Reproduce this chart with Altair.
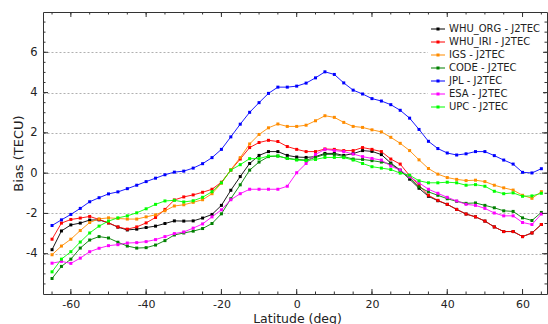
import altair as alt
import pandas as pd

# ---------------- data ----------------
lat = [-65, -62.5, -60, -57.5, -55, -52.5, -50, -47.5, -45, -42.5,
       -40, -37.5, -35, -32.5, -30, -27.5, -25, -22.5, -20, -17.5,
       -15, -12.5, -10, -7.5, -5, -2.5, 0, 2.5, 5, 7.5,
       10, 12.5, 15, 17.5, 20, 22.5, 25, 27.5, 30, 32.5,
       35, 37.5, 40, 42.5, 45, 47.5, 50, 52.5, 55, 57.5,
       60, 62.5, 65]

series_names = ["WHU_ORG - J2TEC", "WHU_IRI - J2TEC", "IGS - J2TEC", "CODE - J2TEC",
                "JPL - J2TEC", "ESA - J2TEC", "UPC - J2TEC"]
series_colors = ["#000000", "#ff0000", "#ff8c00", "#008000", "#0000ff", "#ff00ff", "#00ff00"]

whu_org = [-3.80, -2.87, -2.57, -2.48, -2.33, -2.32, -2.47, -2.68, -2.82, -2.78,
           -2.70, -2.63, -2.50, -2.37, -2.38, -2.37, -2.23, -2.05, -1.60, -0.85,
           -0.17, 0.48, 0.88, 1.07, 1.07, 0.88, 0.80, 0.78, 0.82, 0.98,
           0.98, 0.88, 0.97, 1.12, 1.08, 0.92, 0.50, 0.15, -0.30, -0.75,
           -1.15, -1.37, -1.55, -1.80, -2.03, -2.17, -2.38, -2.67, -2.90, -2.90,
           -3.15, -2.97, -2.55]
whu_iri = [-3.28, -2.48, -2.30, -2.23, -2.15, -2.30, -2.47, -2.67, -2.78, -2.67,
           -2.47, -2.20, -1.80, -1.33, -1.18, -1.08, -0.95, -0.80, -0.45, 0.15,
           0.70, 1.27, 1.52, 1.63, 1.57, 1.32, 1.18, 1.07, 1.07, 1.20,
           1.18, 1.12, 1.12, 1.27, 1.18, 1.07, 0.70, 0.45, -0.13, -0.60,
           -1.10, -1.35, -1.55, -1.80, -2.03, -2.17, -2.38, -2.67, -2.90, -2.90,
           -3.15, -2.97, -2.55]
igs = [-4.05, -3.62, -3.28, -2.85, -2.45, -2.27, -2.22, -2.25, -2.28, -2.28,
       -2.17, -2.07, -1.87, -1.63, -1.57, -1.45, -1.32, -1.02, -0.50, 0.17,
       0.77, 1.45, 1.92, 2.25, 2.44, 2.32, 2.32, 2.38, 2.60, 2.85,
       2.77, 2.52, 2.32, 2.27, 2.15, 2.05, 1.78, 1.48, 1.12, 0.66,
       0.23, -0.05, -0.22, -0.31, -0.37, -0.35, -0.42, -0.60, -0.73, -0.84,
       -1.10, -1.25, -0.92]
code = [-5.23, -4.63, -4.27, -3.72, -3.32, -3.15, -3.22, -3.43, -3.62, -3.72,
        -3.70, -3.57, -3.35, -3.07, -2.97, -2.88, -2.75, -2.50, -2.02, -1.27,
        -0.58, 0.15, 0.55, 0.82, 0.85, 0.73, 0.68, 0.65, 0.78, 0.93,
        0.93, 0.82, 0.70, 0.68, 0.62, 0.55, 0.45, 0.12, -0.22, -0.68,
        -0.93, -1.10, -1.27, -1.40, -1.50, -1.48, -1.60, -1.72, -1.87, -1.90,
        -2.22, -2.35, -1.95]
jpl = [-2.60, -2.32, -2.05, -1.75, -1.42, -1.22, -1.03, -0.93, -0.77, -0.60,
       -0.42, -0.25, -0.08, 0.05, 0.10, 0.25, 0.47, 0.77, 1.18, 1.80,
       2.43, 3.02, 3.50, 3.96, 4.27, 4.27, 4.32, 4.47, 4.73, 5.03,
       4.90, 4.48, 4.12, 3.93, 3.70, 3.58, 3.40, 3.12, 2.73, 2.17,
       1.58, 1.22, 1.00, 0.90, 0.96, 1.07, 1.07, 0.87, 0.65, 0.45,
       0.04, 0.01, 0.22]
esa = [-4.47, -4.38, -4.48, -4.22, -3.90, -3.73, -3.60, -3.55, -3.47, -3.45,
       -3.40, -3.30, -3.15, -3.00, -2.92, -2.73, -2.52, -2.17, -1.82, -1.32,
       -1.02, -0.80, -0.80, -0.80, -0.80, -0.65, 0.02, 0.48, 0.93, 1.18,
       1.12, 1.07, 0.95, 0.82, 0.73, 0.65, 0.35, 0.15, -0.18, -0.48,
       -0.80, -1.00, -1.20, -1.38, -1.55, -1.60, -1.75, -1.98, -2.12, -2.12,
       -2.45, -2.55, -2.03]
upc = [-4.90, -4.27, -3.90, -3.42, -2.97, -2.63, -2.38, -2.22, -2.12, -1.97,
       -1.77, -1.55, -1.38, -1.35, -1.43, -1.37, -1.20, -0.92, -0.48, 0.15,
       0.42, 0.72, 0.72, 0.85, 0.85, 0.73, 0.65, 0.62, 0.68, 0.78,
       0.78, 0.77, 0.65, 0.48, 0.32, 0.25, 0.18, 0.00, -0.10, -0.38,
       -0.48, -0.48, -0.45, -0.48, -0.60, -0.57, -0.65, -0.90, -1.02, -0.98,
       -1.15, -1.13, -1.00]

x_label_values = [-60, -40, -20, 0, 20, 40, 60]
y_label_values = [-4, -2, 0, 2, 4, 6]
x_minor_ticks = [-65, -60, -55, -50, -45, -40, -35, -30, -25, -20, -15, -10, -5,
                 0, 5, 10, 15, 20, 25, 30, 35, 40, 45, 50, 55, 60, 65]
y_major_ticks = [-4, -2, 0, 2, 4, 6]
y_minor_ticks = [-5.5, -5, -4.5, -4, -3.5, -3, -2.5, -2, -1.5, -1, -0.5, 0, 0.5, 1,
                 1.5, 2, 2.5, 3, 3.5, 4, 4.5, 5, 5.5, 6, 6.5, 7, 7.5]

all_series = [whu_org, whu_iri, igs, code, jpl, esa, upc]
rows = []
for i, (name, vals) in enumerate(zip(series_names, all_series)):
    for la, v in zip(lat, vals):
        rows.append({"series": name, "lat": la, "bias": v, "k": i})
df = pd.DataFrame(rows)

# ---------------- layout ----------------
W, H = 504, 282
FONT = "DejaVu Sans"
AX = "#333333"
xscale = alt.Scale(domain=[-67.4, 66.5], nice=False, zero=False)
yscale = alt.Scale(domain=[-6, 8], nice=False, zero=False)
cscale = alt.Scale(domain=series_names, range=series_colors)

x_axis = alt.Axis(values=x_label_values, labelExpr="'' + datum.value", tickSize=0, ticks=False,
                  domain=False, grid=False, labelPadding=4, labelFont=FONT, labelFontSize=11,
                  labelColor="#222", title="Latitude (deg)", titleFont=FONT, titleFontSize=12.5,
                  titleFontWeight="normal", titleColor="#222", titleX=254, titleY=24,
                  titleBaseline="middle", titleAlign="center")
y_axis = alt.Axis(values=y_label_values, labelExpr="'' + datum.value", tickSize=0, ticks=False,
                  domain=False, grid=True, gridDash=[2, 2], gridColor="#b0b0b0", gridWidth=1,
                  labelPadding=6, labelFont=FONT, labelFontSize=11.5, labelColor="#222",
                  title="Bias (TECU)", titleFont=FONT, titleFontSize=13, titleFontWeight="normal",
                  titleColor="#222", titleX=-25, titleY=141, titleAngle=-90,
                  titleBaseline="middle", titleAlign="center")

legend_symbol = ("M-1,-0.07L1,-0.07L1,0.07L-1,0.07Z"
                 "M-0.22,-0.22L0.22,-0.22L0.22,0.22L-0.22,0.22Z")
legend = alt.Legend(title=None, orient="none", legendX=385, legendY=7,
                    fillColor="white", padding=3, symbolType=legend_symbol,
                    symbolSize=196, symbolStrokeWidth=0, labelFont=FONT,
                    labelFontSize=10, labelColor="#222", labelOffset=4,
                    rowPadding=1, symbolOpacity=1)

X = alt.X("lat:Q", scale=xscale, axis=x_axis)
Y = alt.Y("bias:Q", scale=yscale, axis=y_axis)

lines = alt.Chart(df).mark_line(strokeWidth=0.9).encode(
    x=X, y=Y,
    stroke=alt.Stroke("series:N", scale=cscale, sort=series_names, legend=legend),
    order=alt.Order("lat:Q"),
)

points = alt.Chart(df).mark_square(size=9, opacity=1).encode(
    x=X, y=Y,
    fill=alt.Fill("series:N", scale=cscale, sort=series_names, legend=legend),
)


def tick_layer(values, channel, length, side):
    data = pd.DataFrame({"lat": values, "bias": values})
    base = alt.Chart(data).mark_rule(color=AX, strokeWidth=1)
    if channel == "x":
        enc = {"x": X}
        if side == "bottom":
            enc.update(y=alt.value(H), y2=alt.value(H - length))
        else:
            enc.update(y=alt.value(0), y2=alt.value(length))
    else:
        enc = {"y": Y}
        if side == "left":
            enc.update(x=alt.value(0), x2=alt.value(length))
        else:
            enc.update(x=alt.value(W), x2=alt.value(W - length))
    return base.encode(**enc)


ticks = [
    tick_layer(x_minor_ticks, "x", 2.5, "bottom"),
    tick_layer(x_label_values, "x", 5, "bottom"),
    tick_layer(x_minor_ticks, "x", 2.5, "top"),
    tick_layer(x_label_values, "x", 5, "top"),
    tick_layer(y_minor_ticks, "y", 2.5, "left"),
    tick_layer(y_major_ticks, "y", 5, "left"),
    tick_layer(y_minor_ticks, "y", 2.5, "right"),
    tick_layer(y_major_ticks, "y", 5, "right"),
]

chart = alt.layer(lines, points, *ticks).properties(
    width=W, height=H,
    padding={"left": 43, "top": 12, "right": 1, "bottom": 30},
    autosize=alt.AutoSizeParams(type="none"),
    background="white",
).configure_view(stroke=AX, strokeWidth=1)

chart.save("out.html", embed_options={"renderer": "svg", "actions": False})
